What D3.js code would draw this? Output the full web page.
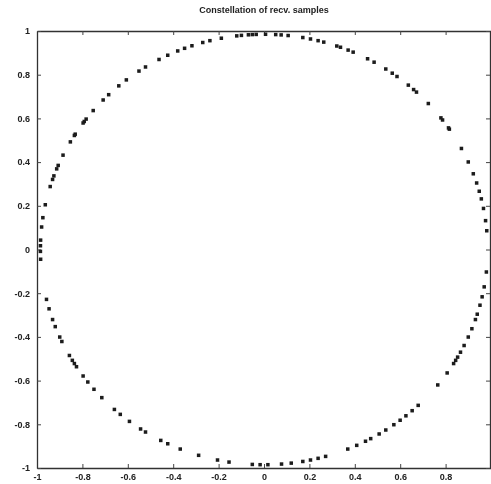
<!DOCTYPE html>
<html>
<head>
<meta charset="utf-8">
<script src="https://cdn.jsdelivr.net/npm/d3@7"></script>
<style>
  body { margin: 0; background: #fff; }
  text { font-family: "Liberation Sans Narrow", "Liberation Sans", Arial, sans-serif; fill: #222; }
</style>
</head>
<body>
<script>
// angles (degrees) of the received samples
var upperAngles = [5, 7.7, 11, 13.6, 15.7, 18, 20.6, 24, 28, 34, 34.4, 37, 37.7, 42.7, 47, 48, 49.8,
  53.5, 55, 57, 60.5, 62.4, 66.5, 67.9, 70, 71, 74.5, 76, 78, 80, 83.8, 85.6, 87, 89.6,
  92, 93, 94, 95.8, 97, 101, 104, 105.9, 108.8, 110.8, 112.7, 115.5, 118, 122, 124, 128,
  130.5, 134, 136, 139.8, 142.7, 143.5, 144, 147.6, 148, 150, 154, 157, 158, 160, 161, 163,
  168, 171.5, 174, 177.5, 179];
var lowerAngles = [-6, -10, -12.7, -15, -17.5, -19, -21.6, -24, -26.5, -28.5, -30, -31, -32, -35, -39,
  -46.4, -48.5, -50.6, -52.5, -54.5, -57, -59, -61.5, -63, -65.5, -68, -74, -76, -78, -80,
  -83, -85.5, -89, -91, -93, -99, -102, -107, -112, -115.5, -117.5, -122, -123.5, -127,
  -130, -132, -136.5, -139.5, -142, -144, -147, -148, -149, -150.5, -154.7, -156, -159,
  -161, -164, -166.6, -177.4, -179.5];
var radius = 0.985;
var xTicks = [-1, -0.8, -0.6, -0.4, -0.2, 0, 0.2, 0.4, 0.6, 0.8, 1];
var yTicks = [-1, -0.8, -0.6, -0.4, -0.2, 0, 0.2, 0.4, 0.6, 0.8, 1];
var title = "Constellation of recv. samples";

var width = 491, height = 484;
var mLeft = 37, mRight = 491, mTop = 31, mBottom = 468;

var svg = d3.select("body").append("svg")
    .attr("width", width)
    .attr("height", height);

var defs = svg.append("defs");
defs.append("filter").attr("id", "soft")
  .append("feGaussianBlur").attr("stdDeviation", 0.5);

var g = svg.append("g").attr("filter", "url(#soft)");

var x = d3.scaleLinear().domain([-1, 1]).range([mLeft, mRight]);
var y = d3.scaleLinear().domain([-1, 1]).range([mBottom, mTop]);

var samples = upperAngles.concat(lowerAngles).map(function (a) {
  var r = a * Math.PI / 180;
  return { x: radius * Math.cos(r), y: radius * Math.sin(r) };
});

// matlab style: plain hyphen, no label for the x=1 tick at the very edge
var fmt = function (d) { return String(d); };
var fmtX = function (d) { return d === 1 ? "" : String(d); };

g.append("g")
  .attr("transform", "translate(0," + mBottom + ")")
  .call(d3.axisBottom(x).tickValues(xTicks).tickSizeInner(-4).tickSizeOuter(0).tickPadding(6).tickFormat(fmtX))
  .call(function (s) { s.selectAll("text").style("font-size", "9px").style("font-weight", "bold"); });

g.append("g")
  .attr("transform", "translate(0," + mTop + ")")
  .call(d3.axisTop(x).tickValues(xTicks).tickSizeInner(-4).tickSizeOuter(0).tickFormat(""));

g.append("g")
  .attr("transform", "translate(" + mLeft + ",0)")
  .call(d3.axisLeft(y).tickValues(yTicks).tickSizeInner(-4).tickSizeOuter(0).tickPadding(7).tickFormat(fmt))
  .call(function (s) { s.selectAll("text").style("font-size", "9px").style("font-weight", "bold"); });

g.append("g")
  .attr("transform", "translate(" + (mRight - 1) + ",0)")
  .call(d3.axisRight(y).tickValues(yTicks).tickSizeInner(-4).tickSizeOuter(0).tickFormat(""));

g.selectAll(".domain").attr("stroke", "#333").attr("stroke-width", 1.3);
g.selectAll(".tick line").attr("stroke", "#444");
g.selectAll(".tick text").attr("fill", "#222")
  .style("font-family", "'Liberation Sans Narrow', 'Liberation Sans', Arial, sans-serif");

g.selectAll(".dot")
    .data(samples)
  .enter().append("rect")
    .attr("class", "dot")
    .attr("x", function (d) { return x(d.x) - 1.75; })
    .attr("y", function (d) { return y(d.y) - 1.75; })
    .attr("width", 3.5)
    .attr("height", 3.5)
    .attr("fill", "#1a1a1a");

g.append("text")
    .attr("x", (mLeft + mRight) / 2)
    .attr("y", 13)
    .attr("text-anchor", "middle")
    .style("font-size", "9px")
    .style("font-weight", "bold")
    .text(title);
</script>
</body>
</html>
